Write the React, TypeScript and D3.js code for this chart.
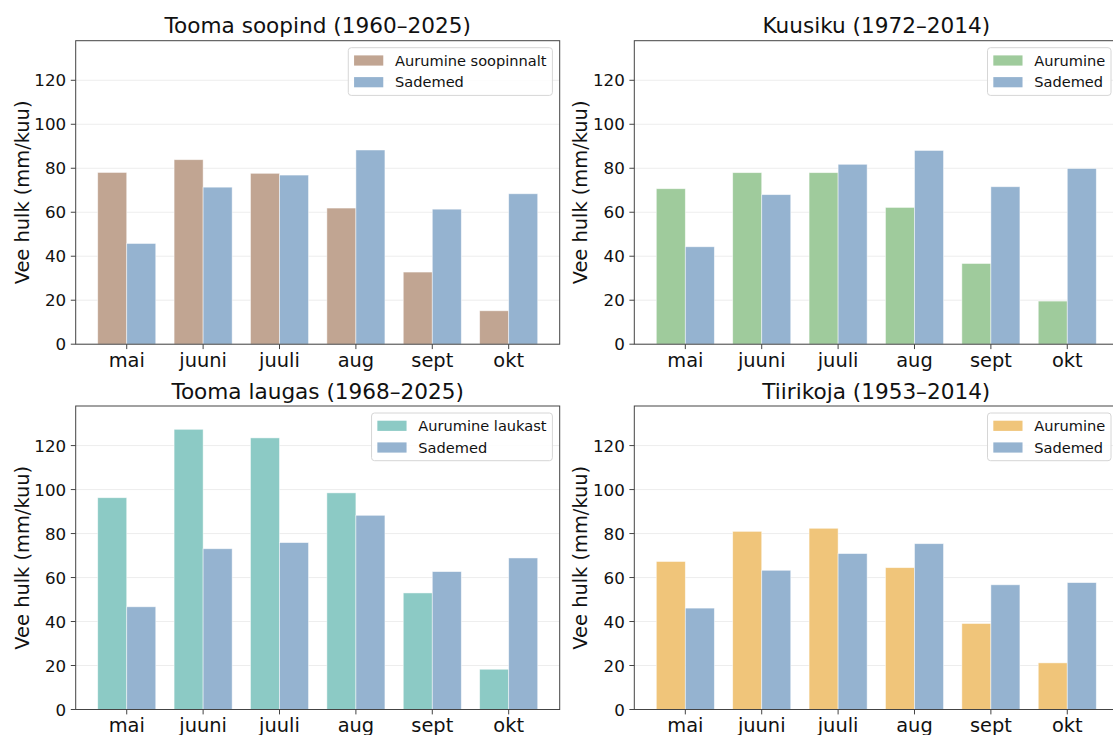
import { useEffect, useRef } from "react";
import * as d3 from "d3";

const months = ["mai", "juuni", "juuli", "aug", "sept", "okt"];
const yTicks = [0, 20, 40, 60, 80, 100, 120];

const evapSoo = [78.1, 83.9, 77.7, 61.9, 32.8, 15.2];
const precipSoo = [45.8, 71.4, 76.9, 88.3, 61.4, 68.4];

const evapKuusiku = [70.7, 78.0, 78.0, 62.2, 36.7, 19.6];
const precipKuusiku = [44.3, 68.0, 81.8, 88.1, 71.6, 79.9];

const evapLaugas = [96.3, 127.4, 123.5, 98.5, 53.0, 18.3];
const precipLaugas = [46.7, 73.1, 75.9, 88.3, 62.7, 68.9];

const evapTiirikoja = [67.3, 81.0, 82.4, 64.5, 39.1, 21.2];
const precipTiirikoja = [46.1, 63.3, 70.9, 75.4, 56.7, 57.7];

const panels = [
  { title: "Tooma soopind (1960–2025)", label: "Aurumine soopinnalt", evap: evapSoo, precip: precipSoo, color: "#c1a592", left: 75.7, top: 40.7 },
  { title: "Kuusiku (1972–2014)", label: "Aurumine", evap: evapKuusiku, precip: precipKuusiku, color: "#9fcb9c", left: 634.3, top: 40.7 },
  { title: "Tooma laugas (1968–2025)", label: "Aurumine laukast", evap: evapLaugas, precip: precipLaugas, color: "#8ccac5", left: 75.7, top: 406 },
  { title: "Tiirikoja (1953–2014)", label: "Aurumine", evap: evapTiirikoja, precip: precipTiirikoja, color: "#f0c57a", left: 634.3, top: 406 },
];

const precipColor = "#95b3d0";
const font = "DejaVu Sans";
const W = 1113;
const H = 735;
const axW = 484;
const axH = 303.5;
const barW = 0.38;
const yMax = 138;

export default function App() {
  const svgRef = useRef<SVGSVGElement | null>(null);

  useEffect(() => {
    if (!svgRef.current) return;
    const svg = d3.select(svgRef.current);
    svg.selectAll("*").remove();

    const x = d3.scaleLinear().domain([-0.668, 5.668]).range([0, axW]);
    const y = d3.scaleLinear().domain([0, yMax]).range([axH, 0]);

    panels.forEach((p) => {
      const g = svg.append("g").attr("transform", `translate(${p.left},${p.top})`);

      // grid
      g.selectAll(".grid")
        .data(yTicks)
        .enter()
        .append("line")
        .attr("x1", 0)
        .attr("x2", axW)
        .attr("y1", (d) => y(d))
        .attr("y2", (d) => y(d))
        .attr("stroke", "#e8e8e8")
        .attr("stroke-width", 0.8);

      // bars
      const bars = [
        { vals: p.evap, off: -barW, color: p.color },
        { vals: p.precip, off: 0, color: precipColor },
      ];
      bars.forEach((b) => {
        g.selectAll(null)
          .data(b.vals)
          .enter()
          .append("rect")
          .attr("x", (_d, i) => x(i + b.off))
          .attr("y", (d) => y(d))
          .attr("width", x(barW) - x(0))
          .attr("height", (d) => axH - y(d))
          .attr("fill", b.color)
          .attr("stroke", "#ffffff")
          .attr("stroke-opacity", 0.6)
          .attr("stroke-width", 0.8);
      });

      // spines
      g.append("rect")
        .attr("width", axW)
        .attr("height", axH)
        .attr("fill", "none")
        .attr("stroke", "#444")
        .attr("stroke-width", 1);

      // y ticks
      const yt = g.selectAll(".yt").data(yTicks).enter().append("g");
      yt.append("line")
        .attr("x1", -4.9)
        .attr("x2", 0)
        .attr("y1", (d) => y(d))
        .attr("y2", (d) => y(d))
        .attr("stroke", "#444");
      yt.append("text")
        .attr("x", -9.5)
        .attr("y", (d) => y(d))
        .attr("dy", "0.36em")
        .attr("text-anchor", "end")
        .attr("font-family", font)
        .attr("font-size", 16.7)
        .attr("fill", "#111")
        .text((d) => d);

      // x ticks
      const xt = g.selectAll(".xt").data(months).enter().append("g");
      xt.append("line")
        .attr("x1", (_d, i) => x(i))
        .attr("x2", (_d, i) => x(i))
        .attr("y1", axH)
        .attr("y2", axH + 4.9)
        .attr("stroke", "#444");
      xt.append("text")
        .attr("x", (_d, i) => x(i))
        .attr("y", axH + 22.8)
        .attr("text-anchor", "middle")
        .attr("font-family", font)
        .attr("font-size", 19.4)
        .attr("fill", "#111")
        .text((d) => d);

      // y label
      g.append("text")
        .attr("transform", "rotate(-90)")
        .attr("x", -axH / 2)
        .attr("y", -47)
        .attr("text-anchor", "middle")
        .attr("font-family", font)
        .attr("font-size", 19.4)
        .attr("fill", "#111")
        .text("Vee hulk (mm/kuu)");

      // title
      g.append("text")
        .attr("x", axW / 2)
        .attr("y", -7.3)
        .attr("text-anchor", "middle")
        .attr("font-family", font)
        .attr("font-size", 21.6)
        .attr("fill", "#111")
        .text(p.title);

      // legend
      const fs = 14.6;
      const items = [
        { label: p.label, color: p.color },
        { label: "Sademed", color: precipColor },
      ];
      const lg = g.append("g");
      const frame = lg.append("rect");
      const texts = lg
        .selectAll(null)
        .data(items)
        .enter()
        .append("text")
        .attr("font-family", font)
        .attr("font-size", fs)
        .attr("fill", "#111")
        .attr("dy", "0.36em")
        .text((d) => d.label);
      let maxW = 0;
      texts.each(function () {
        maxW = Math.max(maxW, (this as SVGTextElement).getComputedTextLength());
      });
      const boxW = 5.8 + 29.2 + 11.7 + maxW + 5.8;
      const boxH = 47.7;
      const bx = axW - 7.3 - boxW;
      const by = 7.0;
      frame
        .attr("x", bx)
        .attr("y", by)
        .attr("width", boxW)
        .attr("height", boxH)
        .attr("rx", 3)
        .attr("fill", "rgba(255,255,255,0.85)")
        .attr("stroke", "#d6d6d6")
        .attr("stroke-width", 1);
      texts
        .attr("x", bx + 46.7)
        .attr("y", (_d, i) => by + 12.8 + i * 21.7);
      lg.selectAll(null)
        .data(items)
        .enter()
        .append("rect")
        .attr("x", bx + 5.8)
        .attr("y", (_d, i) => by + 12.8 + i * 21.7 - 5.1)
        .attr("width", 29.2)
        .attr("height", 10.2)
        .attr("fill", (d) => d.color);
    });
  }, []);

  return (
    <svg
      ref={svgRef}
      width={W}
      height={H}
      style={{ position: "absolute", left: 0, top: 0, background: "#fff" }}
    />
  );
}
